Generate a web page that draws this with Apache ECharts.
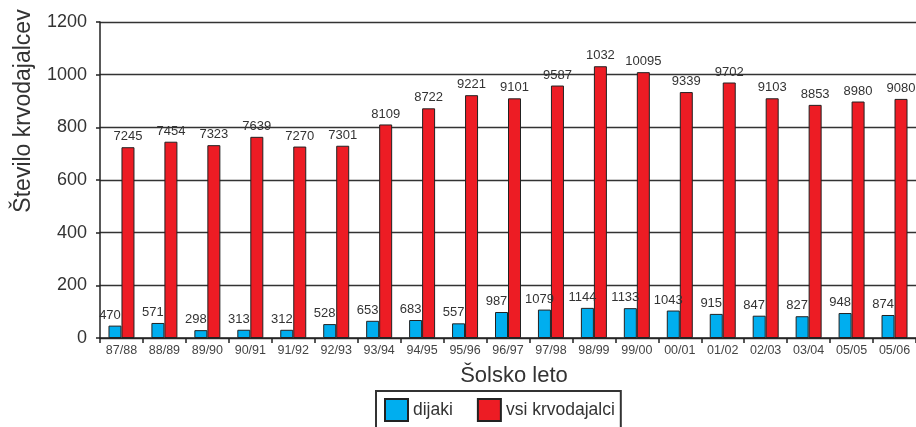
<!DOCTYPE html>
<html>
<head>
<meta charset="utf-8">
<script src="https://cdn.jsdelivr.net/npm/echarts@6/dist/echarts.min.js"></script>
<style>
    html, body { margin: 0; padding: 0; background: #fff; }
    #chart { width: 916px; height: 427px; }
</style>
</head>
<body>
<div id="chart"></div>
<script>
// school years
var categories = ['87/88', '88/89', '89/90', '90/91', '91/92', '92/93', '93/94', '94/95', '95/96', '96/97',
    '97/98', '98/99', '99/00', '00/01', '01/02', '02/03', '03/04', '05/05', '05/06'];
// raw counts (bars are drawn at value / 10 on the axis)
var dijaki = [470, 571, 298, 313, 312, 528, 653, 683, 557, 987, 1079, 1144, 1133, 1043, 915, 847, 827, 948, 874];
var vsi = [7245, 7454, 7323, 7639, 7270, 7301, 8109, 8722, 9221, 9101, 9587, 10320, 10095, 9339, 9702, 9103, 8853, 8980, 9080];
// labels as printed on the chart
var dijakiLabels = ['470', '571', '298', '313', '312', '528', '653', '683', '557', '987', '1079', '1144', '1133', '1043', '915', '847', '827', '948', '874'];
var vsiLabels = ['7245', '7454', '7323', '7639', '7270', '7301', '8109', '8722', '9221', '9101', '9587', '1032', '10095', '9339', '9702', '9103', '8853', '8980', '9080'];
var yTicks = [0, 200, 400, 600, 800, 1000, 1200];
var scale = 10;

var font = '"Liberation Sans", Arial, Helvetica, sans-serif';
var chart = echarts.init(document.getElementById('chart'));

chart.setOption({
    animation: false,
    textStyle: { fontFamily: font },
    grid: { left: 100, right: 0, top: 22, bottom: 89 },
    legend: {
        left: 376,
        top: 391,
        orient: 'horizontal',
        icon: 'rect',
        itemWidth: 23,
        itemHeight: 22,
        itemGap: 24,
        padding: [7, 6, 12, 8],
        borderColor: '#333',
        borderWidth: 2,
        textStyle: { fontSize: 17.5, color: '#333', fontFamily: font },
        data: ['dijaki', 'vsi krvodajalci']
    },
    graphic: [
        {
            type: 'text',
            x: 24,
            y: 111,
            rotation: Math.PI / 2,
            style: {
                text: 'Število krvodajalcev',
                font: '23px ' + font,
                fill: '#333',
                textAlign: 'center',
                textVerticalAlign: 'middle'
            }
        },
        {
            type: 'text',
            x: 514,
            y: 376,
            style: {
                text: 'Šolsko leto',
                font: '22px ' + font,
                fill: '#333',
                textAlign: 'center',
                textVerticalAlign: 'middle'
            }
        }
    ],
    xAxis: {
        type: 'category',
        data: categories,
        axisLine: { lineStyle: { color: '#222', width: 1.5 } },
        axisTick: { show: true, interval: 0, length: 5, lineStyle: { color: '#222', width: 1.5 } },
        axisLabel: { interval: 0, margin: 6, fontSize: 12.5, color: '#444' }
    },
    yAxis: {
        type: 'value',
        min: yTicks[0],
        max: yTicks[yTicks.length - 1],
        interval: 200,
        axisLine: { show: true, lineStyle: { color: '#222', width: 1.5 } },
        axisTick: { show: true, length: 4, lineStyle: { color: '#222', width: 1.5 } },
        axisLabel: { margin: 13, fontSize: 18, color: '#333', formatter: function (v) { return String(v); } },
        splitLine: { lineStyle: { color: '#333', width: 1.3 } }
    },
    series: [
        {
            name: 'dijaki',
            type: 'bar',
            barWidth: 13,
            barGap: '0%',
            data: dijaki.map(function (v) { return v / scale; }),
            itemStyle: { color: '#00AEEF', borderColor: '#222', borderWidth: 1 },
            label: {
                show: true,
                position: 'top',
                distance: 4,
                offset: [-5, 0],
                fontSize: 13,
                color: '#333',
                formatter: function (p) { return dijakiLabels[p.dataIndex]; }
            }
        },
        {
            name: 'vsi krvodajalci',
            type: 'bar',
            barWidth: 13,
            barGap: '0%',
            data: vsi.map(function (v) { return v / scale; }),
            itemStyle: { color: '#ED1C24', borderColor: '#222', borderWidth: 1 },
            label: {
                show: true,
                position: 'top',
                distance: 4,
                fontSize: 13,
                color: '#333',
                formatter: function (p) { return vsiLabels[p.dataIndex]; }
            }
        }
    ]
});
</script>
</body>
</html>
